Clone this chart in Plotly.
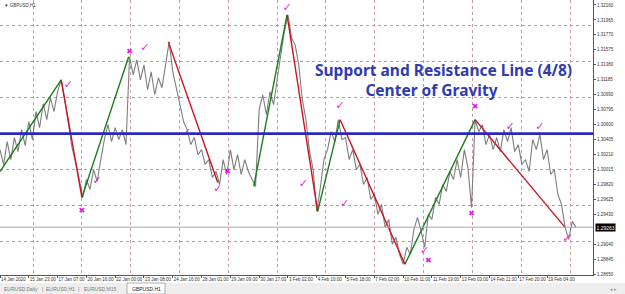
import plotly.graph_objects as go

# ---------------- data ----------------
bar_step = 4  # hours between sampled closes
close = [
    1.30275, 1.30080, 1.30379, 1.30145, 1.30431, 1.30249, 1.30535, 1.30327, 1.30639, 1.30405,
    1.30769, 1.30561, 1.30873, 1.30665, 1.30951, 1.30769, 1.31029, 1.31185, 1.30925, 1.30600,
    1.30301, 1.30119, 1.29885, 1.29651, 1.29885, 1.29755, 1.30015, 1.29859, 1.30145, 1.30405,
    1.30600, 1.30379, 1.30561, 1.30405, 1.30535, 1.30340, 1.31484, 1.31250, 1.31445, 1.31185,
    1.31380, 1.31055, 1.31289, 1.30990, 1.31211, 1.31081, 1.31380, 1.31679, 1.31289, 1.31055,
    1.30860, 1.30639, 1.30535, 1.30340, 1.30431, 1.30210, 1.30275, 1.30080, 1.30145, 1.29911,
    1.29989, 1.29820, 1.30145, 1.29950, 1.30275, 1.30015, 1.30210, 1.29950, 1.30145, 1.29989,
    1.29885, 1.29794, 1.30795, 1.30990, 1.30730, 1.31029, 1.30860, 1.31211, 1.31510, 1.31809,
    1.32030, 1.31731, 1.31640, 1.31380, 1.30925, 1.30665, 1.30249, 1.30015, 1.29469, 1.29781,
    1.30145, 1.30275, 1.30509, 1.30379, 1.30665, 1.30405, 1.30431, 1.30145, 1.30275, 1.30015,
    1.30080, 1.29820, 1.29911, 1.29625, 1.29690, 1.29430, 1.29560, 1.29261, 1.29365, 1.29040,
    1.29131, 1.28910, 1.28780, 1.29001, 1.28910, 1.29235, 1.29391, 1.29209, 1.29001, 1.29430,
    1.29365, 1.29651, 1.29560, 1.29820, 1.29729, 1.29989, 1.29885, 1.30145, 1.29911, 1.30275,
    1.30041, 1.29521, 1.30665, 1.30509, 1.30600, 1.30340, 1.30470, 1.30275, 1.30431, 1.30249,
    1.30535, 1.30379, 1.30561, 1.30249, 1.30340, 1.30080, 1.30145, 1.29989, 1.30405, 1.30275,
    1.30470, 1.30145, 1.30275, 1.29950, 1.30015, 1.29690, 1.29560, 1.29261, 1.29105, 1.29339,
    1.29261,
]
bars = list(range(0, bar_step * len(close), bar_step))

# zigzag legs (bar index, price)
zz_x0 = [0, 68, 91, 187, 282, 319, 353, 378, 450, 528]
zz_y0 = [1.29989, 1.31185, 1.29651, 1.31679, 1.29794, 1.32030, 1.29469, 1.30665, 1.28780, 1.30665]
zz_x1 = [68, 91, 143, 242, 319, 353, 378, 450, 528, 628]
zz_y1 = [1.31185, 1.29651, 1.31484, 1.29846, 1.32030, 1.29469, 1.30665, 1.28780, 1.30665, 1.29261]
zz_dir = ["up", "down", "up", "down", "up", "down", "up", "down", "up", "down"]

# signal marks
check_x = [76, 108, 161, 207, 242, 319, 378, 337, 383, 472, 567, 600, 630]
check_y = [1.31120, 1.29859, 1.31601, 1.30483, 1.29755, 1.32121, 1.30834, 1.29820, 1.29560,
           1.28949, 1.30561, 1.30561, 1.29105]
cross_x = [91, 144, 253, 476, 524, 528]
cross_y = [1.29469, 1.31549, 1.29989, 1.28819, 1.29430, 1.30834]

center_level = 1.30483
last_price = 1.29263

x_tick_bars = list(range(0, 640, 32))
x_tick_text = ["14 Jan 2020", "15 Jan 23:00", "17 Jan 07:00", "20 Jan 16:00", "22 Jan 00:00",
               "23 Jan 08:00", "24 Jan 16:00", "28 Jan 01:00", "29 Jan 09:00", "30 Jan 17:00",
               "3 Feb 02:00", "4 Feb 10:00", "5 Feb 18:00", "7 Feb 02:00", "10 Feb 11:00",
               "11 Feb 19:00", "13 Feb 03:00", "14 Feb 11:00", "17 Feb 20:00", "19 Feb 04:00"]
y_tick_vals = [1.32160, 1.31965, 1.31770, 1.31575, 1.31380, 1.31185, 1.30990, 1.30795, 1.30600,
               1.30405, 1.30210, 1.30015, 1.29820, 1.29625, 1.29430, 1.29040, 1.28845, 1.28650]
y_tick_text = ["%.5f" % v for v in y_tick_vals]

# ---------------- figure ----------------
X_RANGE = [0, 659]
Y_RANGE = [1.28640, 1.32225]
MAG = "#e21ee2"

fig = go.Figure()

fig.add_trace(go.Scatter(x=bars, y=close, mode="lines",
                         line=dict(color="#7e7e7e", width=1.1), hoverinfo="skip"))

for d, col in (("up", "#1d7d1d"), ("down", "#d0101e")):
    xs, ys = [], []
    for a, b, c, e, dd in zip(zz_x0, zz_y0, zz_x1, zz_y1, zz_dir):
        if dd == d:
            xs += [a, c, None]
            ys += [b, e, None]
    fig.add_trace(go.Scatter(x=xs, y=ys, mode="lines", line=dict(color=col, width=1.4),
                             hoverinfo="skip"))

fig.add_trace(go.Scatter(x=check_x, y=check_y, mode="text", text=["✓"] * len(check_x),
                         textfont=dict(color=MAG, size=11, family="DejaVu Sans"),
                         hoverinfo="skip"))
fig.add_trace(go.Scatter(x=cross_x, y=cross_y, mode="text", text=["✖"] * len(cross_x),
                         textfont=dict(color=MAG, size=8, family="DejaVu Sans"),
                         hoverinfo="skip"))

# dummy trace on the grid axes
fig.add_trace(go.Scatter(x=[X_RANGE[0]], y=[Y_RANGE[0]], xaxis="x2", yaxis="y2",
                         mode="markers", marker=dict(size=0.1, opacity=0), hoverinfo="skip"))

# center of gravity and last price lines
fig.add_shape(type="line", xref="paper", x0=0, x1=1, yref="y", y0=last_price, y1=last_price,
              line=dict(color="#a8a8a8", width=1))
fig.add_shape(type="line", xref="paper", x0=0, x1=1, yref="y", y0=center_level, y1=center_level,
              line=dict(color="#2a2ab4", width=2.6))

fig.add_annotation(xref="paper", x=1.004, yref="y", y=last_price, xanchor="left", yanchor="middle",
                   text="1.29263", showarrow=False, bgcolor="#000000",
                   font=dict(color="white", size=5, family="Liberation Sans"), borderpad=0.5)

nb = "&nbsp;" * 6
fig.add_annotation(xref="paper", x=443 / 593, yref="paper", y=(275 - 80.3) / 275,
                   xanchor="center", yanchor="middle", align="center",
                   text="<b>Support and Resistance Line (4/8)</b><br><b>Center of Gravity</b>" + nb,
                   showarrow=False, font=dict(color="#2f3cb0", size=15.5, family="Noto Sans"))

fig.add_annotation(xref="paper", x=0.003, yref="paper", y=(275 - 5) / 275, xanchor="left",
                   yanchor="middle", text="▼ GBPUSD,H1", showarrow=False,
                   font=dict(color="#333", size=4.5, family="Liberation Sans"))

# tab bar
H = 275.0
W = 593.0
def py(p):
    return (H - p) / H
fig.add_shape(type="rect", xref="paper", yref="paper", x0=0, x1=625 / W, y0=py(294), y1=py(283),
              fillcolor="#eeeeee", line=dict(width=0), layer="below")
fig.add_shape(type="rect", xref="paper", yref="paper", x0=127 / W, x1=165 / W, y0=py(294), y1=py(283),
              fillcolor="#ffffff", line=dict(color="#9a9a9a", width=0.8))
for txt, cx in (("EURUSD,Daily", 21), ("|", 42), ("EURUSD,H1", 60), ("|", 78),
                ("EURUSD,M15", 100), ("GBPUSD,H1", 146)):
    fig.add_annotation(xref="paper", yref="paper", x=cx / W, y=py(289), text=txt, showarrow=False,
                       xanchor="center", yanchor="middle",
                       font=dict(color="#222" if txt == "GBPUSD,H1" else "#777", size=5,
                                 family="Liberation Sans"))
fig.add_annotation(xref="paper", yref="paper", x=613 / W, y=py(289), text="◂ ▸", showarrow=False,
                   xanchor="center", yanchor="middle",
                   font=dict(color="#999", size=5, family="DejaVu Sans"))

grid_color = "#c49aa0"
fig.update_layout(
    width=625, height=294,
    margin=dict(l=0, r=32, t=0, b=19),
    paper_bgcolor="white", plot_bgcolor="white",
    showlegend=False,
    xaxis=dict(range=X_RANGE, tickvals=x_tick_bars, ticktext=x_tick_text, tickangle=0,
               tickfont=dict(size=4.5, color="#333", family="Liberation Sans"),
               ticks="outside", ticklen=2, tickcolor="#555", ticklabelposition="outside right",
               showline=True, linecolor="#555", linewidth=1, showgrid=False, zeroline=False,
               automargin=False),
    yaxis=dict(range=Y_RANGE, side="right", tickvals=y_tick_vals, ticktext=y_tick_text,
               tickfont=dict(size=4.5, color="#333", family="Liberation Sans"),
               ticks="outside", ticklen=2, tickcolor="#555", automargin=False,
               showline=True, linecolor="#555", linewidth=1, showgrid=False, zeroline=False),
    xaxis2=dict(range=X_RANGE, overlaying="x", showticklabels=False, ticks="",
                tick0=36.7, dtick=54.25, showgrid=True, gridcolor=grid_color, griddash="dot",
                gridwidth=1, zeroline=False, showline=False),
    yaxis2=dict(range=Y_RANGE, overlaying="y", showticklabels=False, ticks="",
                tick0=1.31887, dtick=0.00468, showgrid=True, gridcolor=grid_color, griddash="dot",
                gridwidth=1, zeroline=False, showline=False),
)

fig.write_html("out.html")
